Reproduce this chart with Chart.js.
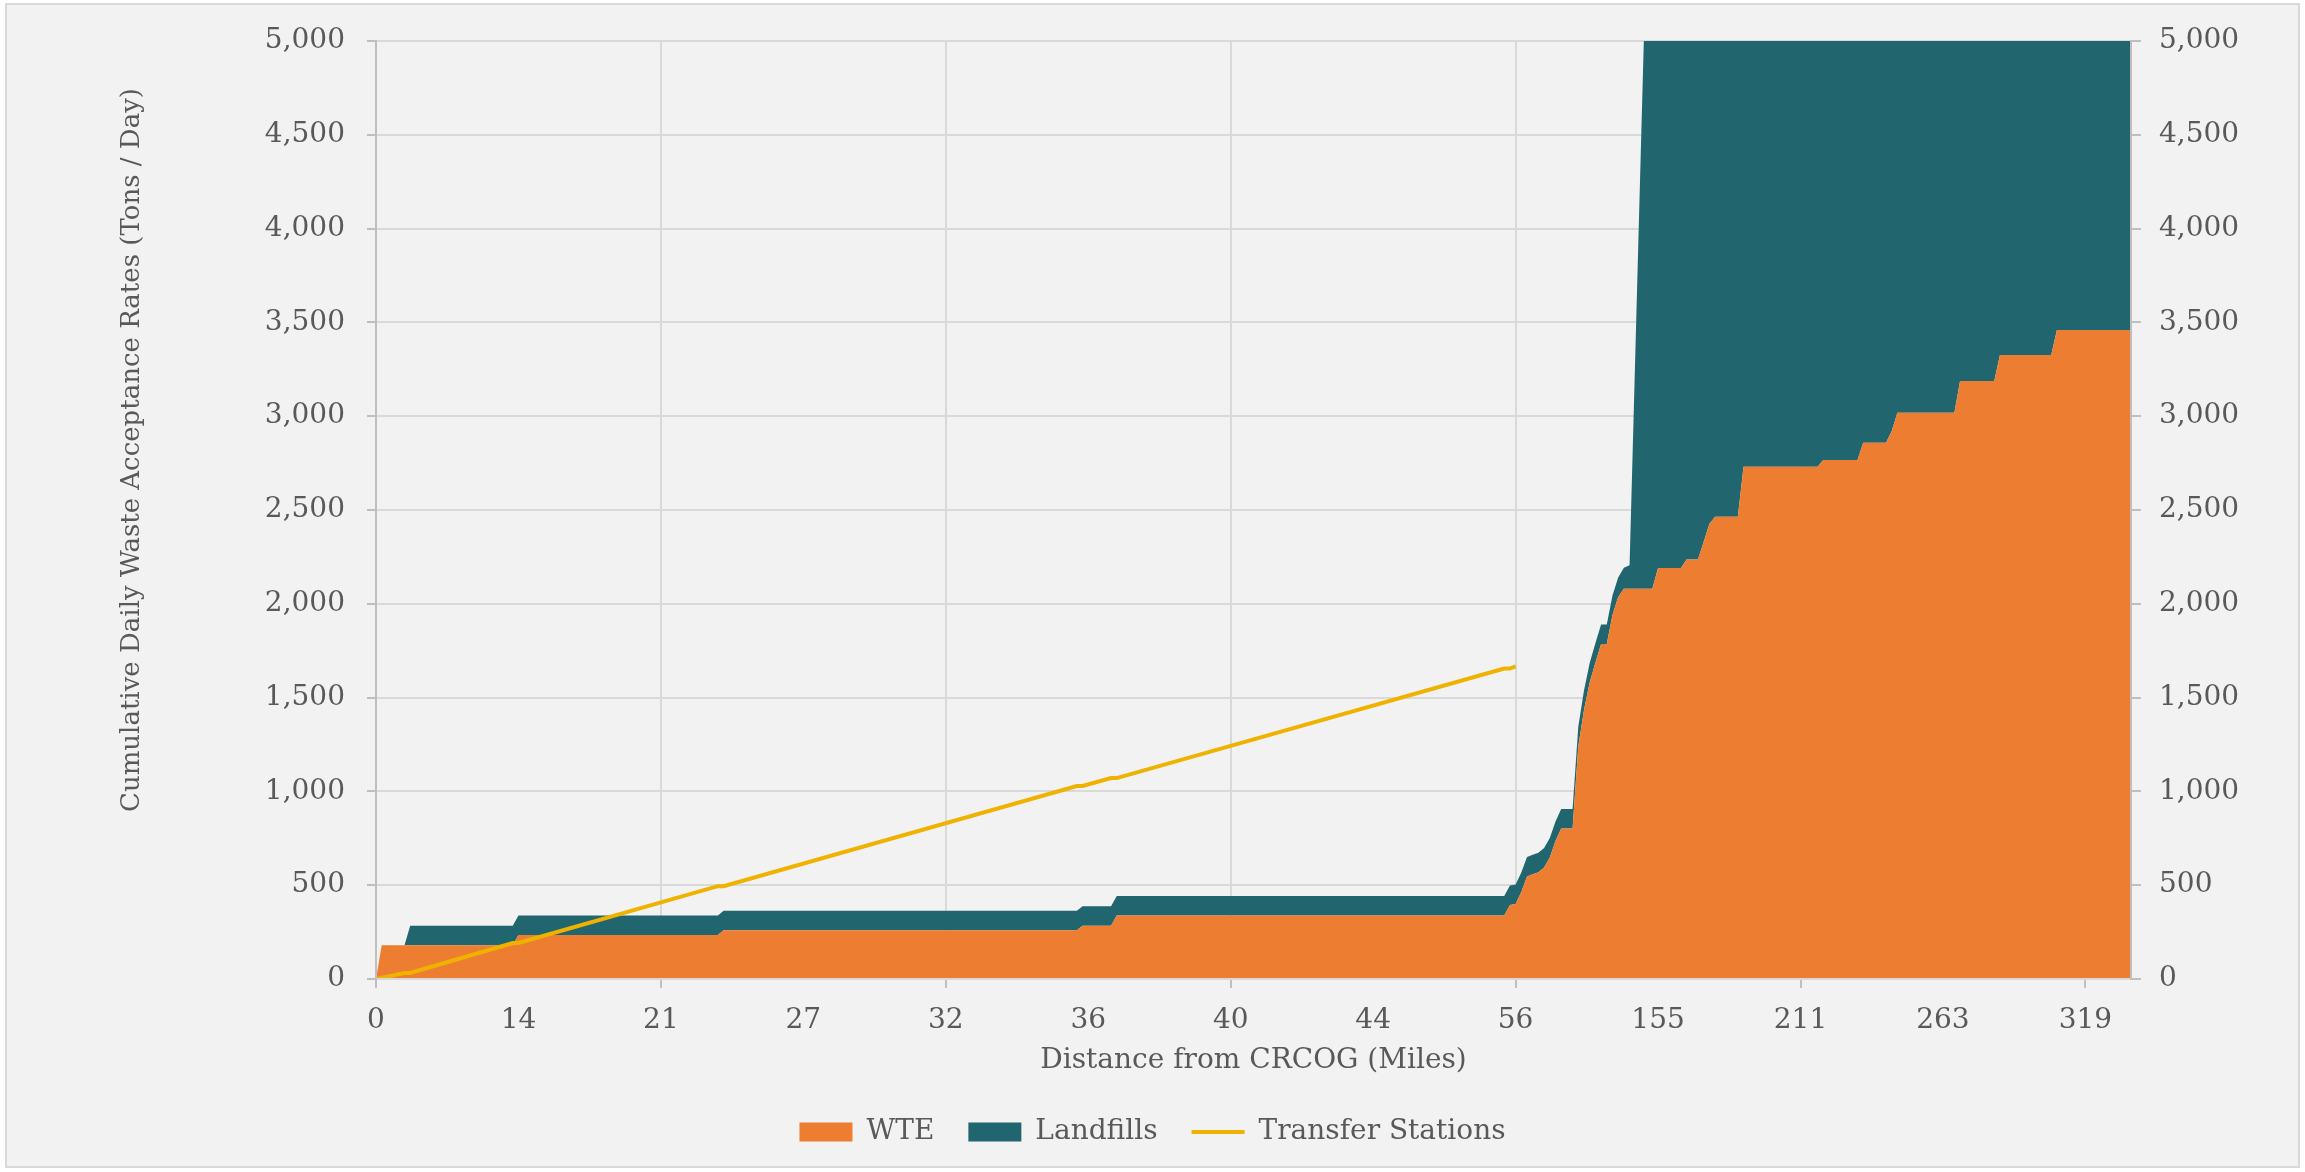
<!DOCTYPE html>
<html>
<head>
<meta charset="utf-8">
<title>Cumulative Daily Waste Acceptance Rates</title>
<script src="https://cdn.jsdelivr.net/npm/chart.js@4.4.1/dist/chart.umd.min.js"></script>
<style>
  html, body { margin: 0; padding: 0; background: #ffffff; }
  #wrap { width: 2305px; height: 1172px; }
</style>
</head>
<body>
<div id="wrap"><canvas id="chart" width="2305" height="1172"></canvas></div>
<script>
// Facilities are ranked by distance from CRCOG; every 25th rank carries its distance label.
const lastRank = 308;
const tickEvery = 25;
const distanceTicks = ['0', '14', '21', '27', '32', '36', '40', '44', '56', '155', '211', '263', '319'];

// Ranks at which the stacked WTE / landfill outlines change (tons per day).
const areaRanks = [0, 1, 5, 6, 24, 25, 60, 61, 123, 124,
  129, 130, 198, 199, 200, 201, 202, 203, 204, 205,
  206, 207, 208, 209, 210, 211, 212, 213, 214, 215,
  216, 217, 218, 219, 220, 221, 222, 223, 224, 225,
  229, 230, 232, 233, 234, 235, 239, 240, 253, 254,
  260, 261, 265, 266, 267, 277, 278, 284, 285, 294,
  295, 308];

const wteTons = [0, 180, 180, 180, 180, 234, 234, 260, 260, 284,
  284, 338, 338, 394, 400, 464, 546, 558, 569, 594,
  648, 735, 802, 802, 802, 1240, 1434, 1580, 1686, 1786,
  1786, 1940, 2036, 2080, 2080, 2080, 2080, 2080, 2080, 2191,
  2191, 2236, 2236, 2330, 2425, 2464, 2464, 2730, 2730, 2767,
  2767, 2858, 2858, 2920, 3018, 3018, 3187, 3187, 3326, 3326,
  3459, 3459];

const landfillTons = [0, 0, 0, 104, 104, 104, 104, 104, 104, 104,
  104, 104, 104, 104, 104, 104, 104, 104, 104, 104,
  104, 104, 104, 104, 104, 104, 104, 104, 104, 104,
  104, 104, 104, 112, 125, 1243, 2361, 3479, 3479, 3479,
  3479, 3479, 3479, 3479, 3479, 3479, 3479, 3479, 3479, 3479,
  3479, 3479, 3479, 3479, 3479, 3479, 3479, 3479, 3479, 3479,
  3479, 3479];

// Cumulative transfer station capacity, listed at the ranks where its slope changes.
const transferRanks = [0, 5, 6, 24, 25, 60, 61, 123, 124, 129, 130, 198, 199, 200];
const transferTons  = [0, 32, 32, 192, 192, 495, 495, 1029, 1029, 1071, 1071, 1655, 1655, 1666];

const yAxisTitle = 'Cumulative Daily Waste Acceptance Rates (Tons / Day)';
const xAxisTitle = 'Distance from CRCOG (Miles)';

const TEXT = '#595959';
const GRID = '#D9D9D9';
const AXIS = '#BFBFBF';
const FONT = "'DejaVu Serif', serif";

Chart.defaults.font.family = FONT;
Chart.defaults.font.size = 28;
Chart.defaults.color = TEXT;

const toPoints = (ranks, tons) => ranks.map((r, i) => ({ x: r, y: tons[i] }));
const majorTick = (c) => c.tick && c.tick.value % (2 * tickEvery) === 0;

const panelBackground = {
  id: 'panelBackground',
  beforeDraw(chart) {
    const { ctx, width, height } = chart;
    ctx.save();
    ctx.fillStyle = '#ffffff';
    ctx.fillRect(0, 0, width, height);
    ctx.fillStyle = '#F2F2F2';
    ctx.fillRect(6, 4, width - 12, height - 9);
    ctx.strokeStyle = '#D9D9D9';
    ctx.lineWidth = 2;
    ctx.strokeRect(6, 4, width - 12, height - 9);
    ctx.restore();
  }
};

const sideTitle = {
  id: 'sideTitle',
  afterDraw(chart) {
    const ctx = chart.ctx;
    ctx.save();
    ctx.translate(132, 450);
    ctx.rotate(-Math.PI / 2);
    ctx.font = "26px " + FONT;
    ctx.fillStyle = TEXT;
    ctx.textAlign = 'center';
    ctx.textBaseline = 'middle';
    ctx.fillText(yAxisTitle, 0, 0);
    ctx.restore();
  }
};

const yTicks = (padding) => ({
  stepSize: 500,
  padding: padding,
  color: TEXT,
  font: { size: 28 },
  callback: (v) => v.toLocaleString('en-US')
});

new Chart(document.getElementById('chart'), {
  type: 'line',
  data: {
    datasets: [
      {
        label: 'WTE',
        data: toPoints(areaRanks, wteTons),
        backgroundColor: '#ED7D31',
        borderColor: '#ED7D31',
        borderWidth: 0,
        pointRadius: 0,
        pointStyle: 'rect',
        fill: 'origin',
        tension: 0
      },
      {
        label: 'Landfills',
        data: toPoints(areaRanks, landfillTons),
        backgroundColor: '#21666E',
        borderColor: '#21666E',
        borderWidth: 0,
        pointRadius: 0,
        pointStyle: 'rect',
        fill: '-1',
        tension: 0
      },
      {
        label: 'Transfer Stations',
        data: toPoints(transferRanks, transferTons),
        backgroundColor: '#EFB200',
        borderColor: '#EFB200',
        borderWidth: 4,
        pointRadius: 0,
        pointStyle: 'line',
        fill: false,
        stack: 'transfer',
        order: -1,
        tension: 0
      }
    ]
  },
  options: {
    responsive: false,
    devicePixelRatio: 1,
    animation: false,
    layout: { padding: { top: 41, left: 0, right: 0, bottom: 16 } },
    plugins: {
      tooltip: { enabled: false },
      legend: {
        position: 'bottom',
        align: 'center',
        labels: {
          usePointStyle: true,
          pointStyleWidth: 53,
          boxHeight: 19,
          padding: 34,
          color: TEXT,
          font: { size: 28 },
          sort: (a, b) => a.datasetIndex - b.datasetIndex
        }
      }
    },
    scales: {
      x: {
        type: 'linear',
        min: 0,
        max: lastRank,
        afterBuildTicks: (s) => { s.ticks = distanceTicks.map((_, i) => ({ value: i * tickEvery })); },
        afterFit: (s) => { s.height = 105; },
        ticks: {
          autoSkip: false,
          maxRotation: 0,
          padding: 16,
          color: TEXT,
          font: { size: 28 },
          callback: (v) => distanceTicks[Math.round(v / tickEvery)]
        },
        grid: {
          color: (c) => majorTick(c) ? GRID : 'rgba(0,0,0,0)',
          tickColor: (c) => majorTick(c) ? AXIS : 'rgba(0,0,0,0)',
          lineWidth: 2,
          tickLength: 9
        },
        border: { color: GRID, width: 2, z: 1 },
        title: {
          display: true,
          text: xAxisTitle,
          color: TEXT,
          font: { size: 28 },
          padding: { top: 0, bottom: 6 }
        }
      },
      y: {
        position: 'left',
        stacked: true,
        min: 0,
        max: 5000,
        ticks: yTicks(22),
        grid: { color: GRID, lineWidth: 2, tickLength: 9, tickColor: AXIS },
        border: { color: AXIS, width: 2, z: 1 },
        afterFit: (s) => { s.width = 376; }
      },
      y2: {
        position: 'right',
        min: 0,
        max: 5000,
        ticks: yTicks(18),
        grid: { drawOnChartArea: false, lineWidth: 2, tickLength: 10, tickColor: AXIS },
        border: { color: AXIS, width: 2, z: 1 },
        afterFit: (s) => { s.width = 174; }
      }
    }
  },
  plugins: [panelBackground, sideTitle]
});
</script>
</body>
</html>
